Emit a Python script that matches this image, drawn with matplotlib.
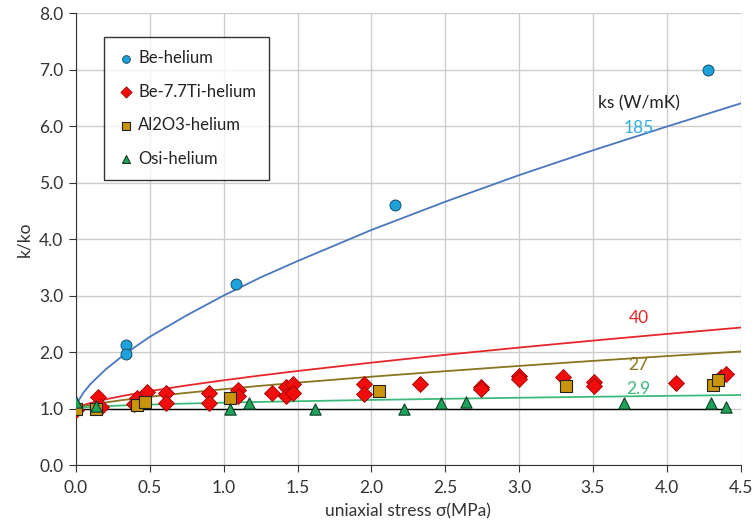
import matplotlib.pyplot as plt
from matplotlib.ticker import MultipleLocator

plt.rcParams["font.family"] = ["Lato", "DejaVu Sans"]

# ── Model curves ───────────────────────────────────────────
curve_x = [0, 0.01, 0.02, 0.05, 0.1, 0.2, 0.3, 0.4, 0.5, 0.75, 1.0, 1.25,
           1.5, 2.0, 2.5, 3.0, 3.5, 4.0, 4.5]
curve_185 = [1.0, 1.10, 1.15, 1.28, 1.44, 1.69, 1.90, 2.09, 2.27, 2.65, 3.00,
             3.32, 3.61, 4.16, 4.66, 5.13, 5.57, 5.99, 6.40]
curve_40 = [1.0, 1.020, 1.032, 1.061, 1.100, 1.162, 1.215, 1.263, 1.308, 1.409,
            1.500, 1.585, 1.664, 1.812, 1.950, 2.079, 2.202, 2.320, 2.433]
curve_27 = [1.0, 1.012, 1.020, 1.040, 1.065, 1.107, 1.144, 1.177, 1.208, 1.278,
            1.342, 1.402, 1.458, 1.563, 1.661, 1.754, 1.843, 1.928, 2.010]
curve_29 = [1.0, 1.008, 1.012, 1.019, 1.028, 1.042, 1.053, 1.062, 1.070, 1.088,
            1.103, 1.117, 1.129, 1.152, 1.172, 1.191, 1.208, 1.224, 1.239]

ref_x = [0.0, 4.43]
ref_y = [1.0, 1.0]

# ── Measured points ────────────────────────────────────────
be_x = [0.0, 0.34, 0.34, 1.08, 2.16, 4.28]
be_y = [1.0, 2.12, 1.96, 3.20, 4.61, 7.00]

beti_x = [0.0, 0.15, 0.17, 0.39, 0.41, 0.48, 0.61, 0.61, 0.90, 0.90, 1.10, 1.10,
          1.33, 1.42, 1.47, 1.42, 1.47, 1.95, 1.95, 2.33, 2.74, 2.74, 3.00, 3.00,
          3.30, 3.51, 3.51, 4.06, 4.37, 4.40]
beti_y = [0.98, 1.21, 1.03, 1.08, 1.18, 1.30, 1.27, 1.10, 1.27, 1.10, 1.32, 1.22,
          1.28, 1.38, 1.43, 1.22, 1.28, 1.43, 1.25, 1.43, 1.38, 1.34, 1.57, 1.53,
          1.55, 1.47, 1.40, 1.45, 1.55, 1.61]

al_x = [0.0, 0.135, 0.415, 0.47, 1.04, 2.05, 3.32, 4.31, 4.35]
al_y = [1.0, 1.00, 1.06, 1.12, 1.19, 1.31, 1.40, 1.42, 1.50]

osi_x = [0.0, 0.135, 1.04, 1.17, 1.62, 2.22, 2.47, 2.64, 3.71, 4.30, 4.40]
osi_y = [1.11, 1.04, 1.00, 1.09, 0.99, 1.00, 1.10, 1.12, 1.09, 1.09, 1.03]

# ── Figure ─────────────────────────────────────────────────
fig = plt.figure(figsize=(7.56, 5.27), dpi=100)
ax = fig.add_axes([0.1005, 0.1176, 0.8792, 0.8577])

ax.plot(ref_x, ref_y, color="black", lw=1.0, zorder=2)
ax.plot(curve_x, curve_185, color="#4a76c0", lw=1.3, zorder=3)
ax.plot(curve_x, curve_40, color="#e8262a", lw=1.3, zorder=3)
ax.plot(curve_x, curve_27, color="#8a7420", lw=1.3, zorder=3)
ax.plot(curve_x, curve_29, color="#3dba7a", lw=1.3, zorder=3)

ax.scatter(be_x, be_y, marker="o", s=62, color="#1ea2dc", edgecolor="#1a4f6a",
           lw=0.7, zorder=5, label="Be-helium")
ax.scatter(beti_x, beti_y, marker="D", s=66, color="#f20d0d", edgecolor="#a00000",
           lw=0.6, zorder=5, label="Be-7.7Ti-helium")
ax.scatter(al_x, al_y, marker="s", s=72, color="#c9950c", edgecolor="#222222",
           lw=0.8, zorder=6, label="Al2O3-helium")
ax.scatter(osi_x, osi_y, marker="^", s=66, color="#1fa25a", edgecolor="#0d3d22",
           lw=0.8, zorder=7, label="Osi-helium")

# curve labels
lab_fs = 12.5
ax.text(3.81, 6.40, "ks (W/mK)", color="#222222", fontsize=lab_fs, ha="center", va="center")
ax.text(3.81, 5.97, "185", color="#30aee0", fontsize=lab_fs, ha="center", va="center")
ax.text(3.81, 2.60, "40", color="#e8262a", fontsize=lab_fs, ha="center", va="center")
ax.text(3.81, 1.77, "27", color="#8a7420", fontsize=lab_fs, ha="center", va="center")
ax.text(3.81, 1.34, "2.9", color="#3dba7a", fontsize=lab_fs, ha="center", va="center")

# ── Axes styling ───────────────────────────────────────────
ax.set_xlim(0, 4.5)
ax.set_ylim(0, 8)
ax.xaxis.set_major_locator(MultipleLocator(0.5))
ax.yaxis.set_major_locator(MultipleLocator(1.0))
ax.xaxis.set_major_formatter(lambda v, p: f"{v:.1f}")
ax.yaxis.set_major_formatter(lambda v, p: f"{v:.1f}")
ax.grid(True, color="#cccccc", lw=1.0)
ax.set_axisbelow(True)

for s in ["top", "right"]:
    ax.spines[s].set_visible(False)
ax.spines["left"].set_color("#333333")
ax.spines["bottom"].set_color("#333333")
ax.tick_params(axis="both", direction="out", length=5, width=0.8, color="#333333",
               labelsize=12.5, labelcolor="#333333", pad=4)
ax.tick_params(axis="x", pad=6)

ax.set_xlabel("uniaxial stress σ(MPa)", fontsize=12.5, color="#333333", labelpad=5)
ax.set_ylabel("k/ko", fontsize=12.5, color="#333333", labelpad=5)

leg = ax.legend(loc="upper left", bbox_to_anchor=(0.042, 0.947), frameon=True,
                fancybox=False, edgecolor="black", fontsize=12, labelspacing=1.05,
                handletextpad=0.25, borderpad=0.8, handlelength=1.0,
                markerscale=0.7, borderaxespad=0)
leg.get_frame().set_linewidth(1.0)
for t in leg.get_texts():
    t.set_color("#222222")

plt.savefig("out.png", dpi=100)
